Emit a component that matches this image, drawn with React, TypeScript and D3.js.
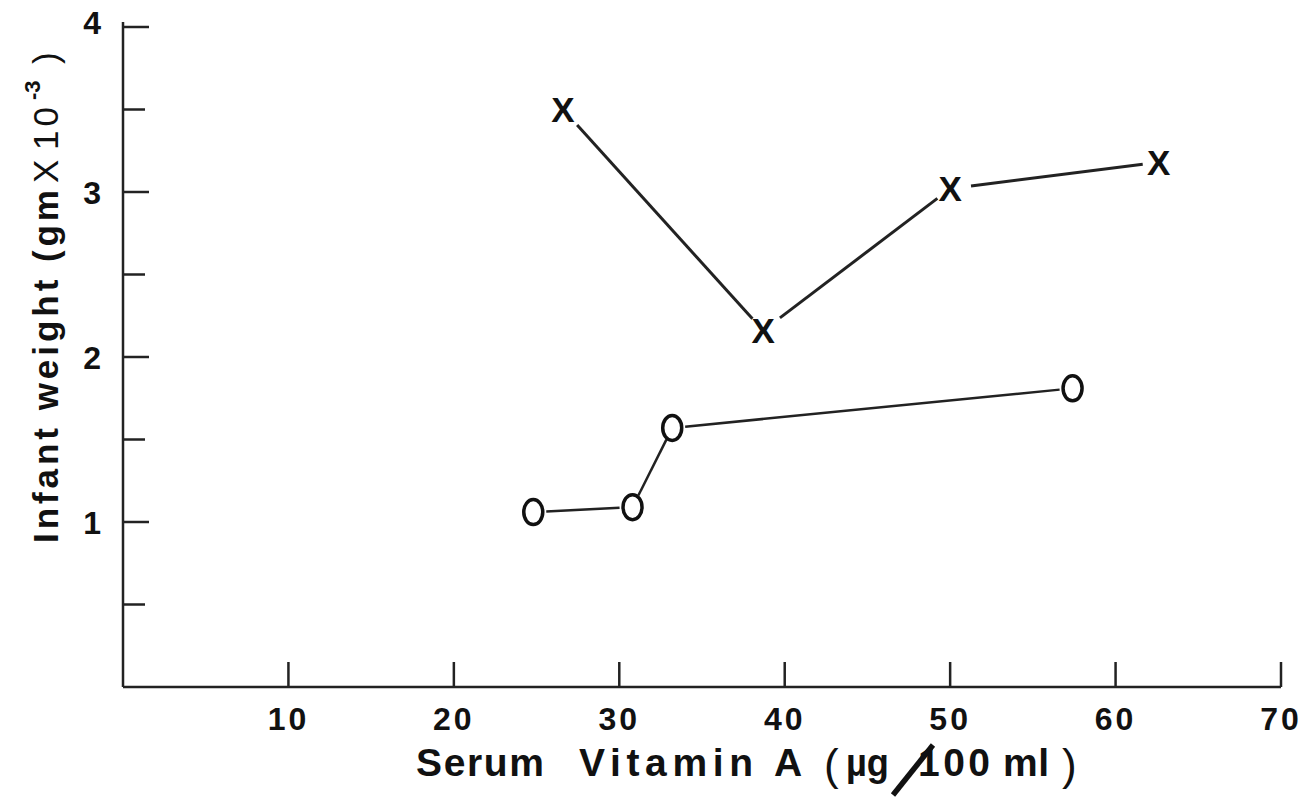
import React, { useEffect } from 'react';
import * as d3 from 'd3';

// values
const crossX = [26.6, 38.7, 50.0, 62.6];
const crossY = [3.5, 2.16, 3.02, 3.18];
const circleX = [24.8, 30.8, 33.2, 57.4];
const circleY = [1.06, 1.09, 1.57, 1.81];
const xTickValues = [10, 20, 30, 40, 50, 60, 70];
const yMajorTicks = [1, 2, 3, 4];
const yMinorTicks = [0.5, 1.5, 2.5, 3.5];

const W = 1305;
const H = 797;
const margin = { top: 27, right: 24, bottom: 110, left: 123 };
const font = '"Liberation Sans", Arial, sans-serif';

const x = d3.scaleLinear().domain([0, 70]).range([margin.left, 1281]);
const y = d3.scaleLinear().domain([0, 4]).range([H - margin.bottom, margin.top]);

// segment between two markers, trimmed so it stops short of the symbols
function trimmed(x1: number, y1: number, x2: number, y2: number, g1: number, g2: number) {
  const dx = x2 - x1;
  const dy = y2 - y1;
  const len = Math.hypot(dx, dy);
  const ux = dx / len;
  const uy = dy / len;
  return { x1: x1 + ux * g1, y1: y1 + uy * g1, x2: x2 - ux * g2, y2: y2 - uy * g2 };
}

export default function App() {
  useEffect(() => {
    document.body.style.margin = '0';
  }, []);

  const cross = crossX.map((v, i) => ({ px: x(v), py: y(crossY[i]) }));
  const circ = circleX.map((v, i) => ({ px: x(v), py: y(circleY[i]) }));
  const y0 = y(0);
  const tb = 776; // x title baseline
  const yb = 58; // y title baseline (rotated)
  const rot = (start: number) => `translate(${yb}, ${start}) rotate(-90)`;

  return (
    <svg width={W} height={H} style={{ display: 'block', background: '#fff' }} fontFamily={font}>
      {/* axes */}
      <line x1={x(0)} x2={x(0)} y1={y(4) - 5} y2={y0} stroke="#222" strokeWidth={2.5} />
      <line x1={x(0)} x2={x(70)} y1={y0} y2={y0} stroke="#222" strokeWidth={2.5} />

      {yMajorTicks.map((t) => (
        <line key={`ym-${t}`} x1={x(0)} x2={x(0) + 26} y1={y(t)} y2={y(t)} stroke="#222" strokeWidth={2.5} />
      ))}
      {yMinorTicks.map((t) => (
        <line key={`yn-${t}`} x1={x(0)} x2={x(0) + 22} y1={y(t)} y2={y(t)} stroke="#222" strokeWidth={2.5} />
      ))}
      {xTickValues.map((t) => (
        <line key={`xt-${t}`} x1={x(t)} x2={x(t)} y1={y0} y2={y0 - 25} stroke="#222" strokeWidth={2.5} />
      ))}

      {/* tick labels */}
      {yMajorTicks.map((t) => (
        <text key={`yl-${t}`} x={x(0) - 22} y={y(t) + (t === 4 ? -5 : 0)} dy="0.36em" textAnchor="end"
          fontSize={32} fontWeight="bold" fill="#111">
          {t}
        </text>
      ))}
      {xTickValues.map((t) => (
        <text key={`xl-${t}`} x={x(t)} y={y0 + 31} dy="0.36em" textAnchor="middle"
          fontSize={32} fontWeight="bold" fill="#111" letterSpacing={3}>
          {t}
        </text>
      ))}

      {/* y axis title, rotated */}
      <g fontSize={35} fill="#111">
        <text transform={rot(543)} fontWeight="bold" textLength={353} lengthAdjust="spacing">
          Infant weight (gm
        </text>
        <text transform={rot(183)}>X</text>
        <text transform={rot(150)} textLength={43} lengthAdjust="spacing">10</text>
        <text transform={`translate(${yb - 18}, 100) rotate(-90)`} fontSize={22} fontWeight="bold">-3</text>
        <text transform={rot(64)}>)</text>
      </g>

      {/* x axis title */}
      <g fontSize={39} fill="#111" fontWeight="bold">
        <text x={416} y={tb} textLength={128} lengthAdjust="spacing">Serum</text>
        <text x={579} y={tb} textLength={174} lengthAdjust="spacing">Vitamin</text>
        <text x={774} y={tb}>A</text>
        <text x={824} y={tb + 4} fontWeight="normal" fontSize={44}>(</text>
        <text x={846} y={tb} textLength={43} lengthAdjust="spacingAndGlyphs">µg</text>
        <text x={918} y={tb} textLength={72} lengthAdjust="spacing">100</text>
        <text x={1003} y={tb} textLength={46} lengthAdjust="spacing">ml</text>
        <text x={1062} y={tb + 4} fontWeight="normal" fontSize={44}>)</text>
      </g>
      <line x1={893} y1={795} x2={933} y2={745} stroke="#111" strokeWidth={5.5} />

      {/* crosses series */}
      {cross.slice(1).map((p, i) => {
        const a = cross[i];
        const s = trimmed(a.px, a.py, p.px, p.py, 21, 16);
        return <line key={`cl-${i}`} {...s} stroke="#222" strokeWidth={3} />;
      })}
      {cross.map((p, i) => (
        <text key={`cx-${i}`} x={p.px} y={p.py} dy="0.36em" textAnchor="middle" fontSize={35}
          fontWeight="bold" fill="#111">
          X
        </text>
      ))}

      {/* circles series */}
      {circ.slice(1).map((p, i) => {
        const a = circ[i];
        const s = trimmed(a.px, a.py, p.px, p.py, 13, 13);
        return <line key={`ol-${i}`} {...s} stroke="#222" strokeWidth={2.5} />;
      })}
      {circ.map((p, i) => (
        <ellipse key={`co-${i}`} cx={p.px} cy={p.py} rx={9.5} ry={12.5} fill="#fff" stroke="#111" strokeWidth={3.5} />
      ))}
    </svg>
  );
}
